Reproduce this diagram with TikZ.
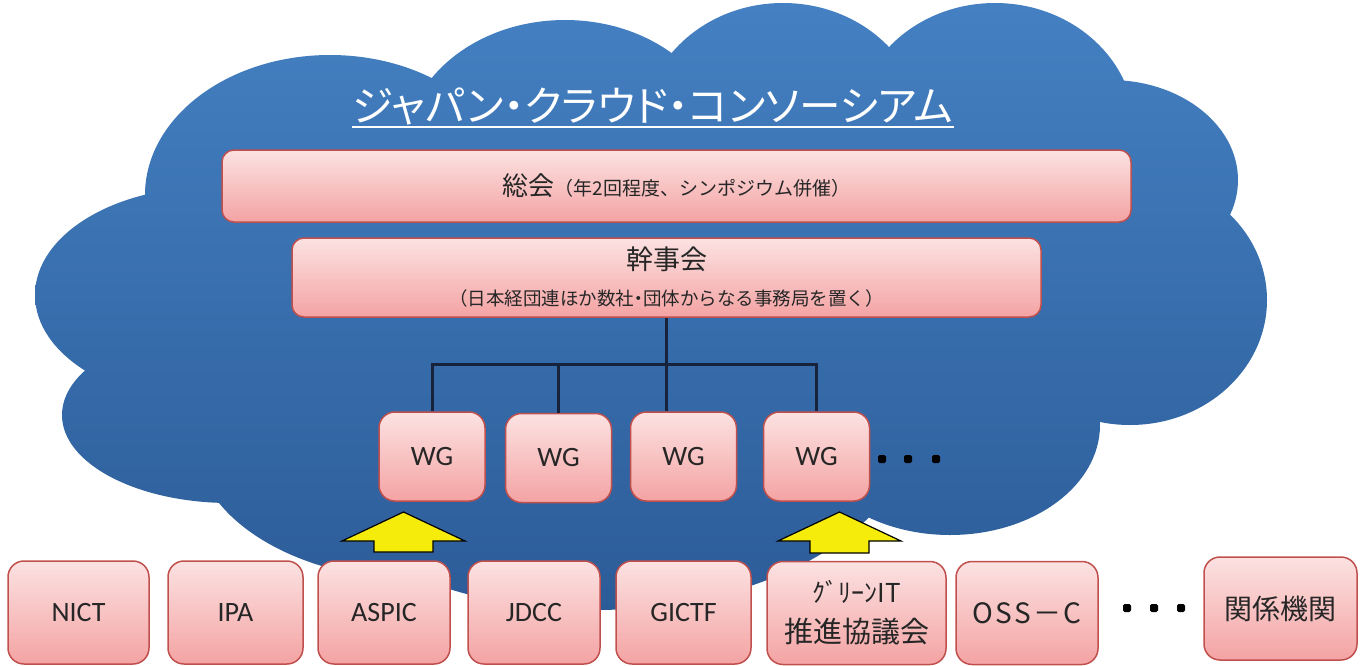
\documentclass[tikz,border=0pt]{standalone}
\usepackage{fontspec}
\setmainfont{Carlito}
\newfontfamily\jpfont{Noto Sans CJK JP}
\newfontfamily\jppfont[RawFeature=+palt]{Noto Sans CJK JP}

\definecolor{cloudtop}{HTML}{4480C2}
\definecolor{cloudbot}{HTML}{2C5C98}
\definecolor{pinktop}{HTML}{FCE2E2}
\definecolor{pinkbot}{HTML}{F4A3A3}
\definecolor{boxline}{HTML}{C0504D}
\definecolor{linkline}{HTML}{16233A}
\definecolor{arrowfill}{HTML}{F5EC0C}
\definecolor{labeltext}{HTML}{262626}

\tikzset{
  orgbox/.style={draw=boxline, line width=0.75pt, top color=pinktop, bottom color=pinkbot,
    rounded corners=6pt, inner sep=0pt, text=labeltext},
  wgbox/.style={orgbox, rounded corners=8pt, minimum width=53pt, minimum height=44.5pt,
    font=\fontsize{14pt}{16pt}\selectfont},
  memberbox/.style={orgbox, rounded corners=8pt, minimum height=51.5pt,
    font=\fontsize{14pt}{16pt}\selectfont},
  link/.style={draw=linkline, line width=1.5pt},
  blockarrow/.style={fill=arrowfill, draw=black, line width=0.6pt, line join=miter},
}

\begin{document}
\begin{tikzpicture}[x=0.5pt, y=-0.5pt]
\useasboundingbox (0,0) rectangle (1362,665);

% cloud
\shade[top color=cloudtop, bottom color=cloudbot]
  (330,195) ellipse [x radius=185, y radius=140]
  (565,150) ellipse [x radius=160, y radius=130]
  (783,130) ellipse [x radius=140, y radius=127]
  (995,130) ellipse [x radius=140, y radius=127]
  (1110,180) ellipse [x radius=128, y radius=100]
  (1130,300) ellipse [x radius=137, y radius=125]
  (950,425) ellipse [x radius=150, y radius=110]
  (595,420) ellipse [x radius=319, y radius=190]
  (420,440) ellipse [x radius=225, y radius=140]
  (230,415) ellipse [x radius=168, y radius=88]
  (210,295) ellipse [x radius=175, y radius=108]
  (650,300) ellipse [x radius=450, y radius=200];

% title
\node[text=white, font=\jppfont\fontsize{20.8pt}{23pt}\selectfont, inner sep=0pt, anchor=base]
  (title) at (653,121) {ジャパン・クラウド・コンソーシアム};
\draw[white, line width=1.3pt] ([yshift=-3pt]title.base west) -- ([yshift=-3pt]title.base east);

% committees
\node[orgbox, minimum width=454.5pt, minimum height=36pt, font=\jpfont] (soukai) at (676.5,186)
  {{\fontsize{13pt}{15pt}\selectfont 総会}{\fontsize{9.5pt}{11pt}\selectfont （年2回程度、シンポジウム併催）}};
\node[orgbox, minimum width=374.5pt, minimum height=39.5pt, align=center,
  font=\jpfont\fontsize{9.25pt}{18pt}\selectfont] (kanjikai) at (666.5,277.5)
  {{\fontsize{13.5pt}{16pt}\selectfont 幹事会}\\（日本経団連ほか数社{\jppfont ・}団体からなる事務局を置く）};

% working groups
\node[wgbox] (wg1) at (432,456.5) {WG};
\node[wgbox] (wg2) at (558.5,458) {WG};
\node[wgbox] (wg3) at (683.5,456.5) {WG};
\node[wgbox] (wg4) at (816.5,456.5) {WG};
\foreach \x in {882,908,936} \fill[rounded corners=0.8pt] (\x-4,455) rectangle (\x+4,463);

\coordinate (hub) at (kanjikai.south |- 0,364);
\draw[link] (kanjikai.south) -- (kanjikai.south |- wg3.north);
\draw[link] (wg1.north) -- (wg1.north |- hub) -- (wg4.north |- hub) -- (wg4.north);
\draw[link] (wg2.north) -- (wg2.north |- hub);

% member organisations
\node[memberbox, minimum width=70.5pt] (nict) at (78.5,612.5) {NICT};
\node[memberbox, minimum width=67.5pt] (ipa) at (235.5,612.5) {IPA};
\node[memberbox, minimum width=66pt] (aspic) at (384,612.5) {ASPIC};
\node[memberbox, minimum width=66pt] (jdcc) at (534,612.5) {JDCC};
\node[memberbox, minimum width=67.5pt] (gictf) at (683.5,612.5) {GICTF};
\node[memberbox, minimum width=89.5pt, align=center, font=\jpfont\fontsize{14.5pt}{20pt}\selectfont]
  (green) at (856.5,613) {{\fontsize{13pt}{15pt}\selectfont ｸﾞﾘｰﾝIT}\\推進協議会};
\node[memberbox, minimum width=71pt, font=\jpfont\fontsize{14pt}{17pt}\selectfont\addfontfeature{LetterSpace=8}]
  (oss) at (1027,613) {OSS－C};
\node[memberbox, minimum width=76.5pt, font=\jpfont\fontsize{14pt}{16pt}\selectfont] (kankei) at (1280.5,608.5) {関係機関};
\foreach \x in {1127,1154,1181} \fill[rounded corners=0.8pt] (\x-4,604) rectangle (\x+4,612);

% block arrows
\draw[blockarrow] (403.5,512) -- (465,541) -- (433,541) -- (433,552) -- (374,552) -- (374,541) -- (342,541) -- cycle;
\draw[blockarrow] (839.5,512) -- (901,541) -- (869,541) -- (869,553) -- (810,553) -- (810,541) -- (778,541) -- cycle;
\end{tikzpicture}
\end{document}
